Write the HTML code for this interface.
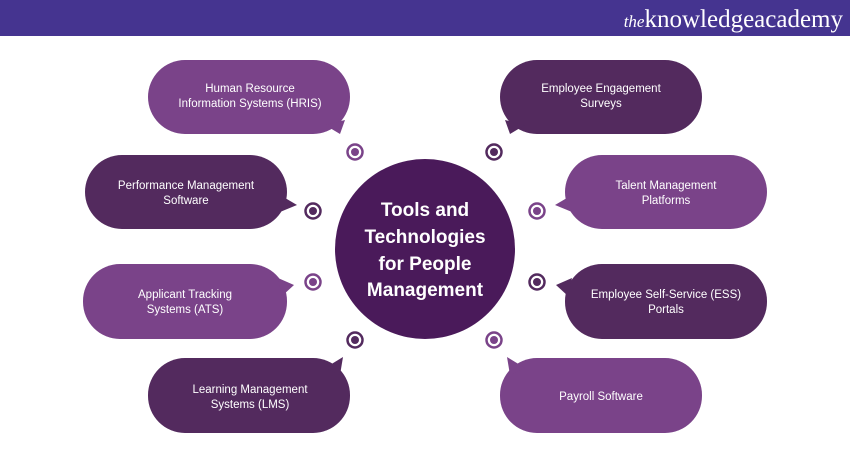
<!DOCTYPE html>
<html><head><style>body{margin:0;background:#fff}svg{display:block}</style></head><body>
<svg width="850" height="450" viewBox="0 0 850 450" font-family="Liberation Sans, sans-serif">
<rect x="0" y="0" width="850" height="36" fill="#453490"/>
<text x="843" y="27" text-anchor="end" fill="#fff" style="font-family:'Liberation Serif',serif;font-size:25px"><tspan style="font-style:italic;font-size:17px">the</tspan>knowledgeacademy</text>
<g font-size="11.5" fill="#fff" text-anchor="middle">
<rect x="148" y="60" width="202" height="74" rx="37" fill="#7a4389"/><polygon points="325,125 345,120 340,134" fill="#7a4389"/>
<text x="250" y="92">Human Resource</text><text x="250" y="107">Information Systems (HRIS)</text>
<rect x="500" y="60" width="202" height="74" rx="37" fill="#532a5e"/><polygon points="525,125 505,120 510,134" fill="#532a5e"/>
<text x="601" y="92">Employee Engagement</text><text x="601" y="107">Surveys</text>
<rect x="85" y="155" width="202" height="74" rx="37" fill="#532a5e"/><polygon points="280,195 297,205 280,212" fill="#532a5e"/>
<text x="186" y="189">Performance Management</text><text x="186" y="204">Software</text>
<rect x="565" y="155" width="202" height="74" rx="37" fill="#7a4389"/><polygon points="572,195 555,205 572,212" fill="#7a4389"/>
<text x="666" y="189">Talent Management</text><text x="666" y="204">Platforms</text>
<rect x="83" y="264" width="204" height="75" rx="37" fill="#7a4389"/><polygon points="278,278 294,285 282,296" fill="#7a4389"/>
<text x="185" y="298">Applicant Tracking</text><text x="185" y="313">Systems (ATS)</text>
<rect x="565" y="264" width="202" height="75" rx="37" fill="#532a5e"/><polygon points="572,278 556,285 568,296" fill="#532a5e"/>
<text x="666" y="298">Employee Self-Service (ESS)</text><text x="666" y="313">Portals</text>
<rect x="148" y="358" width="202" height="75" rx="37" fill="#532a5e"/><polygon points="325,368 343,357 340,375" fill="#532a5e"/>
<text x="250" y="393">Learning Management</text><text x="250" y="408">Systems (LMS)</text>
<rect x="500" y="358" width="202" height="75" rx="37" fill="#7a4389"/><polygon points="525,368 507,357 510,375" fill="#7a4389"/>
<text x="601" y="400">Payroll Software</text>
</g>
<circle cx="425" cy="249" r="90" fill="#4a1a5a"/>
<g font-size="19" font-weight="bold" fill="#fff" text-anchor="middle">
<text x="425" y="216">Tools and</text><text x="425" y="243">Technologies</text><text x="425" y="270">for People</text><text x="425" y="296">Management</text>
</g>
<g fill="none" stroke-width="2.5">
<circle cx="355" cy="152" r="7.5" stroke="#7a4389"/><circle cx="494" cy="152" r="7.5" stroke="#532a5e"/>
<circle cx="313" cy="211" r="7.5" stroke="#532a5e"/><circle cx="537" cy="211" r="7.5" stroke="#7a4389"/>
<circle cx="313" cy="282" r="7.5" stroke="#7a4389"/><circle cx="537" cy="282" r="7.5" stroke="#532a5e"/>
<circle cx="355" cy="340" r="7.5" stroke="#532a5e"/><circle cx="494" cy="340" r="7.5" stroke="#7a4389"/>
</g>
<g>
<circle cx="355" cy="152" r="4" fill="#7a4389"/><circle cx="494" cy="152" r="4" fill="#532a5e"/>
<circle cx="313" cy="211" r="4" fill="#532a5e"/><circle cx="537" cy="211" r="4" fill="#7a4389"/>
<circle cx="313" cy="282" r="4" fill="#7a4389"/><circle cx="537" cy="282" r="4" fill="#532a5e"/>
<circle cx="355" cy="340" r="4" fill="#532a5e"/><circle cx="494" cy="340" r="4" fill="#7a4389"/>
</g>
</svg>
</body></html>
